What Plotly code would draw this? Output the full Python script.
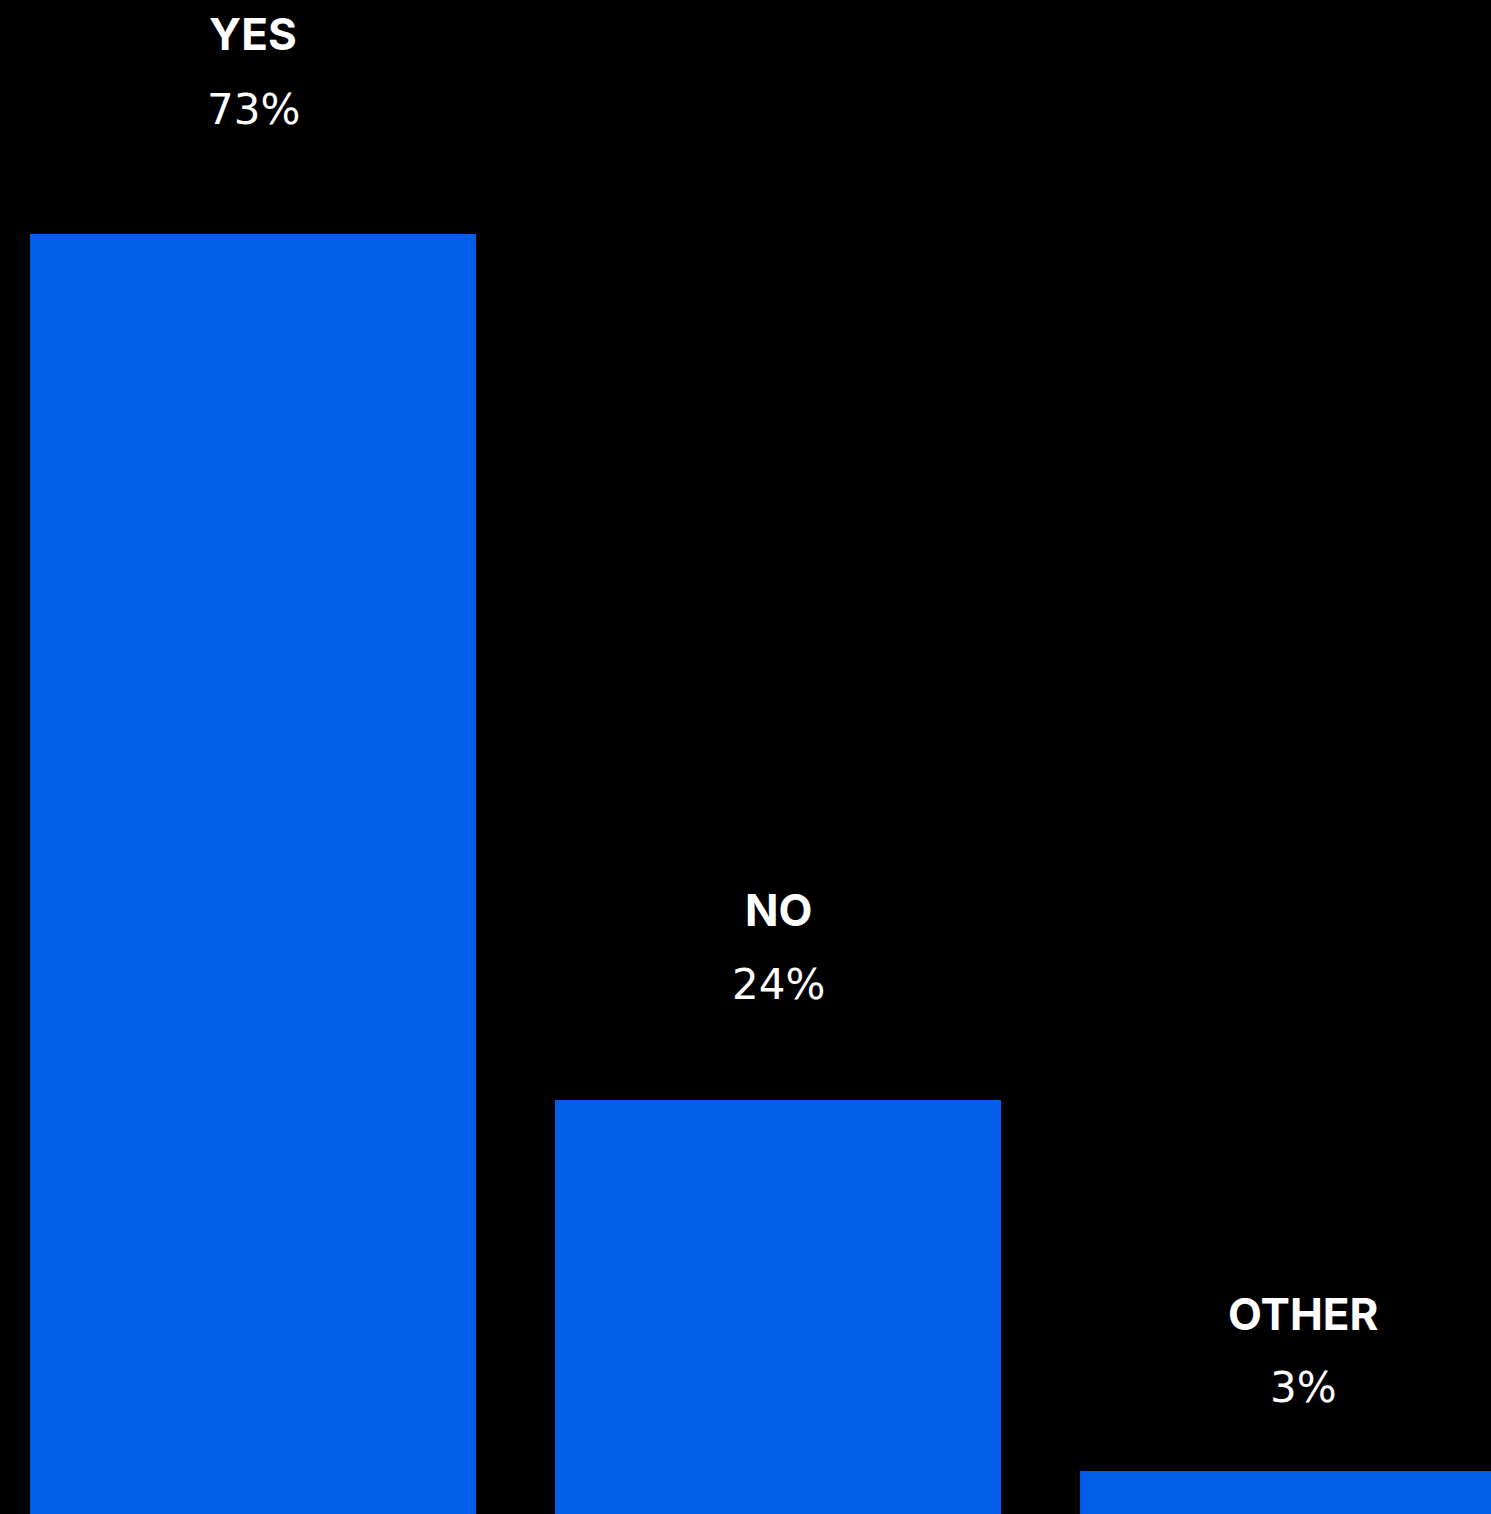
import plotly.graph_objects as go

# Survey answers and their shares (percent)
categories = ["YES", "NO", "OTHER"]
shares = [73, 24, 3]

BAR_BLUE = "#005EE9"
W, H = 1491, 1514

# Pixel lift of the name / percentage labels above each bar top
name_lift = [200, 190, 157]
pct_lift = [125, 115, 83]

fig = go.Figure(
    go.Bar(
        x=categories,
        y=shares,
        marker=dict(color=BAR_BLUE, line=dict(width=0)),
        width=0.8495,
        hoverinfo="skip",
    )
)

# Two-line label above every bar: bold category name, lighter percentage
for cat, val, nl, pl in zip(categories, shares, name_lift, pct_lift):
    fig.add_annotation(
        x=cat, y=val, text=f"<b>{cat}</b>", showarrow=False,
        yanchor="middle", yshift=nl,
        font=dict(family="Inter", size=44, color="white"),
    )
    fig.add_annotation(
        x=cat, y=val, text=f"{val}%", showarrow=False,
        yanchor="middle", yshift=pl,
        font=dict(family="DejaVu Sans", size=42, color="white"),
    )

fig.update_layout(
    width=W, height=H,
    margin=dict(l=0, r=0, t=0, b=0),
    paper_bgcolor="black", plot_bgcolor="black",
    showlegend=False,
    xaxis=dict(range=[-0.4819, 2.358], visible=False, fixedrange=True),
    yaxis=dict(range=[0.566, 86.25], visible=False, fixedrange=True),
)

fig.write_html("out.html", config={"displayModeBar": False})
